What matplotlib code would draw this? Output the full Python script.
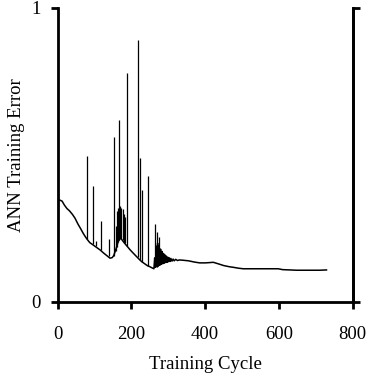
import matplotlib
matplotlib.use("Agg")
import matplotlib.pyplot as plt

plt.rcParams['font.family'] = ['Liberation Serif', 'DejaVu Serif']

# smooth part of the error curve (cycle, error)
cycle = [0, 5, 12, 18, 25, 32, 40, 47, 55, 62, 69, 75, 80, 87, 95, 105, 115,
         125, 135, 142, 148, 152, 156, 160, 164, 169, 174, 180, 188, 196, 205,
         215, 222, 228, 236, 244, 250, 256, 261,
         263, 265, 267, 269, 271, 273, 275, 277, 279, 281, 283, 285, 287, 289,
         291, 293, 295, 297, 299, 301, 303, 305, 307, 310, 313, 316, 320, 325,
         330, 340, 355, 370, 385, 400, 412, 422, 435, 450, 465, 476, 490, 503,
         530, 560, 598, 610, 630, 648, 680, 710, 729]
error = [0.345, 0.347, 0.343, 0.330, 0.318, 0.310, 0.298, 0.285, 0.265, 0.250,
         0.234, 0.222, 0.213, 0.202, 0.195, 0.186, 0.177, 0.166, 0.156, 0.149,
         0.151, 0.158, 0.172, 0.188, 0.205, 0.217, 0.212, 0.202, 0.190, 0.178,
         0.166, 0.153, 0.144, 0.137, 0.130, 0.123, 0.120, 0.116, 0.113,
         0.150, 0.118, 0.190, 0.120, 0.200, 0.122, 0.190, 0.125, 0.180, 0.128,
         0.172, 0.130, 0.165, 0.132, 0.160, 0.134, 0.156, 0.135, 0.152, 0.137,
         0.150, 0.138, 0.148, 0.139, 0.146, 0.140, 0.145, 0.141,
         0.143, 0.142, 0.140, 0.136, 0.133, 0.133, 0.134, 0.135, 0.130, 0.124,
         0.120, 0.118, 0.115, 0.113, 0.113, 0.113, 0.113, 0.110, 0.109, 0.108,
         0.108, 0.108, 0.109]

# error spikes: cycle, low end, peak
spike_x = [78.5, 96.5, 103, 116.5, 138, 152.6, 157, 160, 164, 167, 170, 173,
           176, 179, 182, 188, 217.6, 224, 229, 244, 264, 270, 276]
spike_lo = [0.215, 0.196, 0.192, 0.176, 0.158, 0.156, 0.172, 0.188, 0.205,
            0.212, 0.217, 0.213, 0.210, 0.204, 0.200, 0.190, 0.154, 0.142,
            0.137, 0.123, 0.118, 0.120, 0.125]
spike_hi = [0.497, 0.395, 0.207, 0.276, 0.213, 0.560, 0.260, 0.310, 0.320,
            0.620, 0.325, 0.320, 0.315, 0.300, 0.290, 0.780, 0.891, 0.489,
            0.381, 0.430, 0.265, 0.239, 0.220]

fig = plt.figure(figsize=(3.77, 3.79), dpi=100)
ax = fig.add_axes([0.153, 0.2032, 0.7825, 0.7757])

ax.plot(cycle, error, color='black', linewidth=1.1)
ax.vlines(spike_x, spike_lo, spike_hi, color='black', linewidth=0.9)

ax.set_xlim(0, 800)
ax.set_ylim(0, 1)
ax.set_xticks([0, 200, 400, 600, 800])
ax.set_yticks([0, 1])

for s in ['left', 'bottom', 'right']:
    ax.spines[s].set_linewidth(2.0)
ax.spines['top'].set_visible(False)

ax.tick_params(axis='x', direction='out', length=5, width=2.0, pad=12,
               labelsize=13.5)
ax.tick_params(axis='y', direction='out', length=5, width=2.0, pad=7,
               labelsize=13.5)

ax.set_xlabel('Training Cycle', fontsize=13.5)
ax.set_ylabel('ANN Training Error', fontsize=13.5)
ax.xaxis.set_label_coords(0.5, -0.185)
ax.yaxis.set_label_coords(-0.112, 0.5)

ax2 = ax.twinx()
ax2.set_ylim(0, 1)
ax2.set_yticks([0, 1])
ax2.spines['top'].set_visible(False)
ax2.spines['right'].set_linewidth(2.0)
ax2.tick_params(axis='y', direction='out', length=5, width=2.0, pad=16,
                labelsize=13.5)

fig.savefig('out.png', dpi=100)
